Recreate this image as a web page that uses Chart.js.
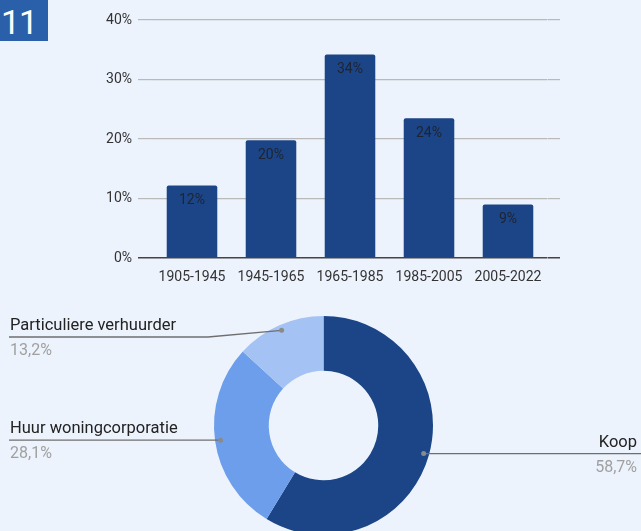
<!DOCTYPE html>
<html>
<head>
<meta charset="utf-8">
<script src="https://cdn.jsdelivr.net/npm/chart.js@4"></script>
<style>
    html, body {
        margin: 0;
        padding: 0;
        width: 641px;
        height: 531px;
        overflow: hidden;
        background: #ecf3fd;
        font-family: Roboto, sans-serif;
    }
    #badge {
        position: absolute;
        left: 0;
        top: 0;
        width: 48px;
        height: 41px;
        background: #2a5fa9;
        color: #fff;
        font-size: 34px;
        font-weight: 400;
        line-height: 44px;
        padding-left: 1px;
        box-sizing: border-box;
        letter-spacing: -1px;
    }
    #barChart { position: absolute; left: 0; top: 0; }
    #pieChart { position: absolute; left: 0; top: 300px; }
</style>
</head>
<body>
<div id="badge">11</div>
<canvas id="barChart" width="641" height="290"></canvas>
<canvas id="pieChart" width="641" height="240"></canvas>
<script>
// bouwperiode
const periods = ['1905-1945', '1945-1965', '1965-1985', '1985-2005', '2005-2022'];
const periodShares = [12.2, 19.8, 34.2, 23.5, 9.0];
const yTicks = [0, 10, 20, 30, 40];

// eigendom
const owners = ['Koop', 'Huur woningcorporatie', 'Particuliere verhuurder'];
const ownerShares = [58.7, 28.1, 13.2];
const ownerColors = ['#1c4587', '#6d9eeb', '#a4c2f4'];

Chart.defaults.font.family = 'Roboto, sans-serif';
Chart.defaults.animation = false;

// value labels inside the bars
const barLabels = {
    id: 'barLabels',
    afterDatasetsDraw(chart) {
        const ctx = chart.ctx;
        const meta = chart.getDatasetMeta(0);
        ctx.save();
        ctx.font = '14px Roboto';
        ctx.fillStyle = '#1d2433';
        ctx.textAlign = 'center';
        ctx.textBaseline = 'middle';
        meta.data.forEach((bar, i) => {
            ctx.fillText(Math.round(periodShares[i]) + '%', bar.x, bar.y + 15);
        });
        ctx.restore();
    }
};

new Chart(document.getElementById('barChart'), {
    type: 'bar',
    data: {
        labels: periods,
        datasets: [{
            data: periodShares,
            backgroundColor: '#1c4587',
            borderRadius: 2,
            borderSkipped: 'bottom',
            barPercentage: 0.64,
            categoryPercentage: 1
        }]
    },
    options: {
        responsive: false,
        layout: { padding: { top: 20, bottom: 0, left: 0, right: 0 } },
        plugins: { legend: { display: false }, tooltip: { enabled: false } },
        scales: {
            x: {
                grid: { display: false, drawTicks: false },
                border: { display: false },
                ticks: { color: '#333', font: { size: 14 }, padding: 11, maxRotation: 0 },
                afterFit: s => { s.height = 32; }
            },
            y: {
                min: 0,
                max: 40,
                afterBuildTicks: s => { s.ticks = yTicks.map(v => ({ value: v })); },
                border: { display: false },
                grid: {
                    color: c => c.tick && c.tick.value === 0 ? '#444' : '#b9b9b9',
                    lineWidth: c => c.tick && c.tick.value === 0 ? 1.5 : 1.2,
                    tickLength: 14.5
                },
                ticks: { color: '#333', font: { size: 14 }, padding: 6, callback: v => v + '%' },
                afterFit: s => { s.width = 152.5; }
            },
            y2: {
                position: 'right',
                min: 0,
                max: 40,
                afterBuildTicks: s => { s.ticks = yTicks.map(v => ({ value: v })); },
                border: { display: false },
                grid: {
                    drawOnChartArea: false,
                    color: c => c.tick && c.tick.value === 0 ? '#444' : '#b9b9b9',
                    lineWidth: c => c.tick && c.tick.value === 0 ? 1.5 : 1.2,
                    tickLength: 12.5
                },
                ticks: { display: false },
                afterFit: s => { s.width = 93.5; }
            }
        }
    },
    plugins: [barLabels]
});

// callout labels round the doughnut
const pieLabels = {
    id: 'pieLabels',
    afterDraw(chart) {
        const ctx = chart.ctx;
        const meta = chart.getDatasetMeta(0);
        const W = chart.width;
        ctx.save();
        meta.data.forEach((arc, i) => {
            const mid = (arc.startAngle + arc.endAngle) / 2;
            const r = arc.outerRadius * 0.95;
            const px = arc.x + Math.cos(mid) * r;
            const py = arc.y + Math.sin(mid) * r;
            const right = Math.cos(mid) >= 0;
            const lineY = Math.max(py, arc.y - arc.outerRadius + 21);
            const pct = ownerShares[i].toFixed(1).replace('.', ',') + '%';

            ctx.strokeStyle = '#6f6f6f';
            ctx.lineWidth = 1.3;
            ctx.beginPath();
            if (right) {
                const bx = arc.x + arc.outerRadius + 6;
                ctx.moveTo(px, py);
                ctx.lineTo(bx, lineY);
                ctx.lineTo(W, lineY);
            } else {
                const bx = arc.x - arc.outerRadius - 6;
                ctx.moveTo(9, lineY);
                ctx.lineTo(bx, lineY);
                ctx.lineTo(px, py);
            }
            ctx.stroke();

            ctx.fillStyle = '#8a8a8a';
            ctx.beginPath();
            ctx.arc(px, py, 2.5, 0, Math.PI * 2);
            ctx.fill();

            ctx.textBaseline = 'middle';
            ctx.textAlign = right ? 'right' : 'left';
            const tx = right ? W - 4 : 10;
            ctx.font = '16.5px Roboto';
            ctx.fillStyle = '#222';
            ctx.fillText(owners[i], tx, lineY - 11);
            ctx.font = '16px Roboto';
            ctx.fillStyle = '#a0a0a0';
            ctx.fillText(pct, tx, lineY + 14);
        });
        ctx.restore();
    }
};

new Chart(document.getElementById('pieChart'), {
    type: 'doughnut',
    data: {
        labels: owners,
        datasets: [{
            data: ownerShares,
            backgroundColor: ownerColors,
            borderWidth: 0
        }]
    },
    options: {
        responsive: false,
        cutout: '50%',
        layout: { padding: { top: 16, left: 6, right: 0, bottom: 5 } },
        plugins: { legend: { display: false }, tooltip: { enabled: false } }
    },
    plugins: [pieLabels]
});
</script>
</body>
</html>
